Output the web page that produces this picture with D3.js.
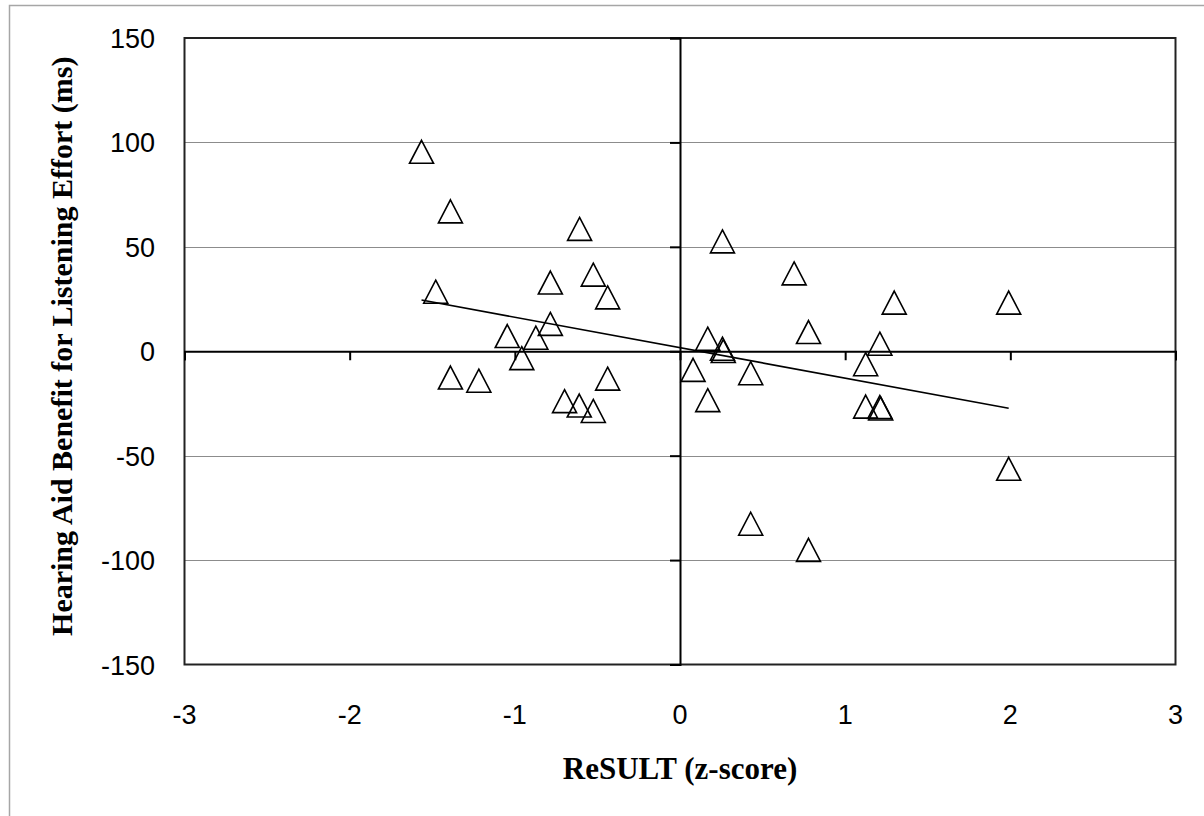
<!DOCTYPE html>
<html lang="en">
<head>
    <meta charset="UTF-8">
    <title>Hearing Aid Benefit vs ReSULT</title>
    <style>
        body { margin: 0; background: #fff; }
        .tick-label { font-family: "Liberation Sans", Arial, sans-serif; font-size: 27px; fill: #000; }
        .axis-title { font-family: "Liberation Serif", "Times New Roman", serif; font-weight: bold; fill: #000; }
        .grid { stroke: #8c8c8c; stroke-width: 1px; }
        .marker { fill: none; stroke: #000; stroke-width: 1.6px; }
    </style>
</head>
<body>
    <svg width="1204" height="816"></svg>
    <script src="https://d3js.org/d3.v7.min.js"></script>
    <script>
        // values
        const zScores = [-1.565, -1.39, -0.608, -1.479, -0.785, -0.525, -0.438, -0.785, -1.046, -0.873,
                         -0.958, -1.39, -1.218, -0.438, -0.699, -0.61, -0.525,
                         0.257, 0.691, 1.297, 1.99, 0.778, 0.168, 0.257, 0.262, 1.21,
                         0.079, 0.428, 1.124, 0.168, 1.124, 1.21, 1.215, 1.99, 0.428, 0.778];
        const benefits = [95.5, 67.0, 58.6, 28.5, 32.9, 36.7, 25.8, 13.1, 7.3, 6.5,
                          -3.3, -12.6, -14.1, -13.1, -23.9, -26.0, -28.6,
                          52.6, 37.3, 23.3, 23.3, 9.2, 6.0, 1.2, 0.1, 3.6,
                          -8.9, -10.5, -6.2, -23.4, -26.5, -26.7, -27.4, -56.3, -82.6, -95.1];
        const trendX = [-1.565, 1.99];
        const trendY = [24.5, -27.3];
        const xTicks = [-3, -2, -1, 0, 1, 2, 3];
        const yTicks = [-150, -100, -50, 0, 50, 100, 150];
        const gridValues = [-100, -50, 50, 100];

        const svg = d3.select("svg");

        const x = d3.scaleLinear().domain([-3, 3]).range([184.5, 1175.5]);
        const y = d3.scaleLinear().domain([-150, 150]).range([664.5, 38]);

        // outer chart border (only top/left visible)
        svg.append("rect")
            .attr("x", 9.5).attr("y", 5.5)
            .attr("width", 1220).attr("height", 840)
            .attr("fill", "none").attr("stroke", "#a6a6a6").attr("stroke-width", 1.5);

        // gridlines
        svg.selectAll(".grid").data(gridValues).enter().append("line")
            .attr("class", "grid")
            .attr("x1", x(-3)).attr("x2", x(3))
            .attr("y1", d => Math.round(y(d)) + 0.5).attr("y2", d => Math.round(y(d)) + 0.5);

        // plot frame
        svg.append("rect")
            .attr("x", x(-3)).attr("y", y(150))
            .attr("width", x(3) - x(-3)).attr("height", y(-150) - y(150))
            .attr("fill", "none").attr("stroke", "#222").attr("stroke-width", 2);

        // zero axes, ticks crossing at the origin
        const xAxis = d3.axisBottom(x).tickValues(xTicks).tickSize(9).tickFormat("");
        const yAxis = d3.axisLeft(y).tickValues(yTicks).tickSize(10).tickFormat("");

        const gx = svg.append("g").attr("transform", `translate(0,${y(0)})`).call(xAxis);
        const gy = svg.append("g").attr("transform", `translate(${x(0)},0)`).call(yAxis);
        [gx, gy].forEach(g => {
            g.select(".domain").attr("stroke", "#000").attr("stroke-width", 2);
            g.selectAll(".tick line").attr("stroke", "#000").attr("stroke-width", 2);
        });

        // tick labels
        svg.selectAll(".xlab").data(xTicks).enter().append("text")
            .attr("class", "tick-label")
            .attr("x", d => x(d)).attr("y", 724)
            .attr("text-anchor", "middle")
            .text(d => d);

        svg.selectAll(".ylab").data(yTicks).enter().append("text")
            .attr("class", "tick-label")
            .attr("x", 155).attr("y", d => y(d) + 10)
            .attr("text-anchor", "end")
            .text(d => d);

        // axis titles
        svg.append("text")
            .attr("class", "axis-title")
            .attr("x", x(0)).attr("y", 779)
            .attr("text-anchor", "middle")
            .style("font-size", "31px")
            .text("ReSULT (z-score)");

        svg.append("text")
            .attr("class", "axis-title")
            .attr("transform", `translate(72,${y(0) - 5}) rotate(-90)`)
            .attr("text-anchor", "middle")
            .style("font-size", "30px")
            .text("Hearing Aid Benefit for Listening Effort (ms)");

        // trend line
        const points = zScores.map((z, i) => ({ z, b: benefits[i] }));
        const trend = trendX.map((t, i) => ({ z: t, b: trendY[i] }));

        svg.append("path")
            .datum(trend)
            .attr("fill", "none")
            .attr("stroke", "#000")
            .attr("stroke-width", 1.6)
            .attr("d", d3.line().x(d => x(d.z)).y(d => y(d.b)));

        // triangle markers (bounding box centred on the value)
        const tri = "M0,-11.5L12,11.5L-12,11.5Z";
        svg.selectAll(".marker").data(points).enter().append("path")
            .attr("class", "marker")
            .attr("transform", d => `translate(${x(d.z)},${y(d.b)})`)
            .attr("d", tri);
    </script>
</body>
</html>
